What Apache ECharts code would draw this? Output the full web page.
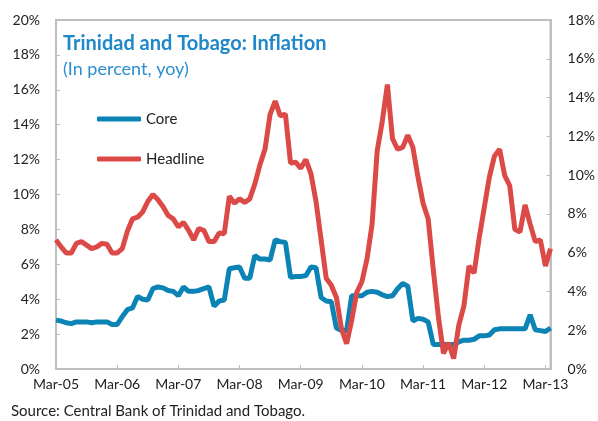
<!DOCTYPE html>
<html>
<head>
<meta charset="utf-8">
<script src="https://cdn.jsdelivr.net/npm/echarts@6/dist/echarts.min.js"></script>
<style>
  html, body { margin: 0; padding: 0; background: #fff; }
  #chart { width: 598px; height: 421px; }
</style>
</head>
<body>
<div id="chart"></div>
<script>
// monthly, Mar-05 .. Apr-13
var monthNames = ['Jan','Feb','Mar','Apr','May','Jun','Jul','Aug','Sep','Oct','Nov','Dec'];
var months = [];
for (var k = 0; k < 98; k++) {
    var m = (2 + k) % 12, y = 5 + Math.floor((2 + k) / 12);
    months.push(monthNames[m] + '-' + (y < 10 ? '0' + y : y));
}

var core = [
    2.8, 2.75, 2.65, 2.6, 2.7, 2.7, 2.7, 2.65, 2.7, 2.7, 2.7, 2.55,
    2.55, 3.0, 3.4, 3.5, 4.15, 4.0, 3.95, 4.6, 4.7, 4.65, 4.5, 4.45,
    4.2, 4.7, 4.45, 4.45, 4.5, 4.6, 4.7, 3.6, 3.9, 3.95, 5.75, 5.8,
    5.85, 5.2, 5.2, 6.5, 6.3, 6.3, 6.25, 7.4, 7.3, 7.25, 5.25, 5.3,
    5.3, 5.35, 5.85, 5.8, 4.1, 3.9, 3.85, 2.35, 2.2, 2.2, 4.2, 4.2,
    4.2, 4.4, 4.45, 4.4, 4.25, 4.15, 4.2, 4.6, 4.9, 4.75, 2.75, 2.9,
    2.85, 2.7, 1.4, 1.4, 1.4, 1.4, 1.4, 1.55, 1.65, 1.65, 1.7, 1.9,
    1.9, 1.95, 2.25, 2.3, 2.3, 2.3, 2.3, 2.3, 2.3, 3.1, 2.25, 2.2,
    2.15, 2.35
];
var headline = [
    7.4, 7.0, 6.65, 6.65, 7.2, 7.3, 7.1, 6.9, 7.0, 7.2, 7.15, 6.65,
    6.65, 6.9, 7.9, 8.6, 8.7, 9.0, 9.6, 10.0, 9.7, 9.3, 8.8, 8.6,
    8.15, 8.4, 7.95, 7.4, 8.05, 7.95, 7.3, 7.3, 7.8, 7.75, 9.9, 9.5,
    9.75, 9.55, 9.75, 10.6, 11.7, 12.6, 14.6, 15.35, 14.5, 14.6, 11.8, 11.85,
    11.5, 12.0, 11.2, 9.6, 7.4, 5.2, 4.8, 4.1, 2.3, 1.45, 2.8, 4.4,
    5.0, 6.3, 8.3, 12.5, 14.2, 16.3, 13.2, 12.6, 12.7, 13.4, 12.7, 11.0,
    9.5, 8.6, 5.7, 3.0, 0.9, 1.5, 0.6, 2.5, 3.6, 5.9, 5.5, 7.5,
    9.25, 11.0, 12.2, 12.6, 11.1, 10.5, 8.0, 7.85, 9.4, 8.3, 7.3, 7.4,
    5.9, 6.9
];

var font = 'Lato, "DejaVu Sans", sans-serif';
var axisGrey = '#bfbfbf';

var chart = echarts.init(document.getElementById('chart'));
chart.setOption({
    animation: false,
    color: ['#0b83b5', '#dc4a47'],
    title: {
        text: 'Trinidad and Tobago: Inflation',
        subtext: '(In percent, yoy)',
        left: 58,
        top: 29,
        itemGap: 6,
        textStyle: { fontFamily: font, fontSize: 20, fontWeight: 'bold', color: '#1f88c9' },
        subtextStyle: { fontFamily: font, fontSize: 18, color: '#2b8fd0' }
    },
    legend: {
        orient: 'vertical',
        left: 92,
        top: 106,
        itemWidth: 44,
        itemHeight: 5,
        itemGap: 24,
        icon: 'roundRect',
        textStyle: { fontFamily: font, fontSize: 15, color: '#222', lineHeight: 16 },
        data: ['Core', 'Headline']
    },
    graphic: [{
        type: 'text',
        left: 11,
        top: 404,
        style: { text: 'Source: Central Bank of Trinidad and Tobago.', font: '15px ' + font, fill: '#222' }
    }],
    grid: {
        left: 56, right: 45, top: 20, bottom: 52,
        show: true, borderColor: axisGrey, borderWidth: 2
    },
    xAxis: {
        type: 'category',
        boundaryGap: false,
        data: months,
        axisLine: { lineStyle: { color: axisGrey, width: 2 } },
        axisTick: {
            inside: true, length: 4,
            interval: function (i) { return i % 12 === 0; },
            lineStyle: { color: axisGrey }
        },
        axisLabel: {
            interval: function (i) { return i % 12 === 0; },
            margin: 8,
            fontFamily: font, fontSize: 14, color: '#222'
        },
        splitLine: { show: false }
    },
    yAxis: [{
        type: 'value',
        min: 0, max: 20, interval: 2,
        axisLine: { show: true, lineStyle: { color: axisGrey, width: 2 } },
        axisTick: { show: true, inside: true, length: 4, lineStyle: { color: axisGrey } },
        axisLabel: { formatter: '{value}%', margin: 16, fontFamily: font, fontSize: 14, color: '#222' },
        splitLine: { show: false }
    }, {
        type: 'value',
        position: 'right',
        min: 0, max: 18, interval: 2,
        axisLine: { show: true, lineStyle: { color: axisGrey, width: 2 } },
        axisTick: { show: true, inside: true, length: 4, lineStyle: { color: axisGrey } },
        axisLabel: { formatter: '{value}%', margin: 17, fontFamily: font, fontSize: 14, color: '#222' },
        splitLine: { show: false }
    }],
    series: [{
        name: 'Core',
        type: 'line',
        data: core,
        showSymbol: false,
        lineStyle: { width: 5 }
    }, {
        name: 'Headline',
        type: 'line',
        data: headline,
        showSymbol: false,
        lineStyle: { width: 5 }
    }]
});
</script>
</body>
</html>
